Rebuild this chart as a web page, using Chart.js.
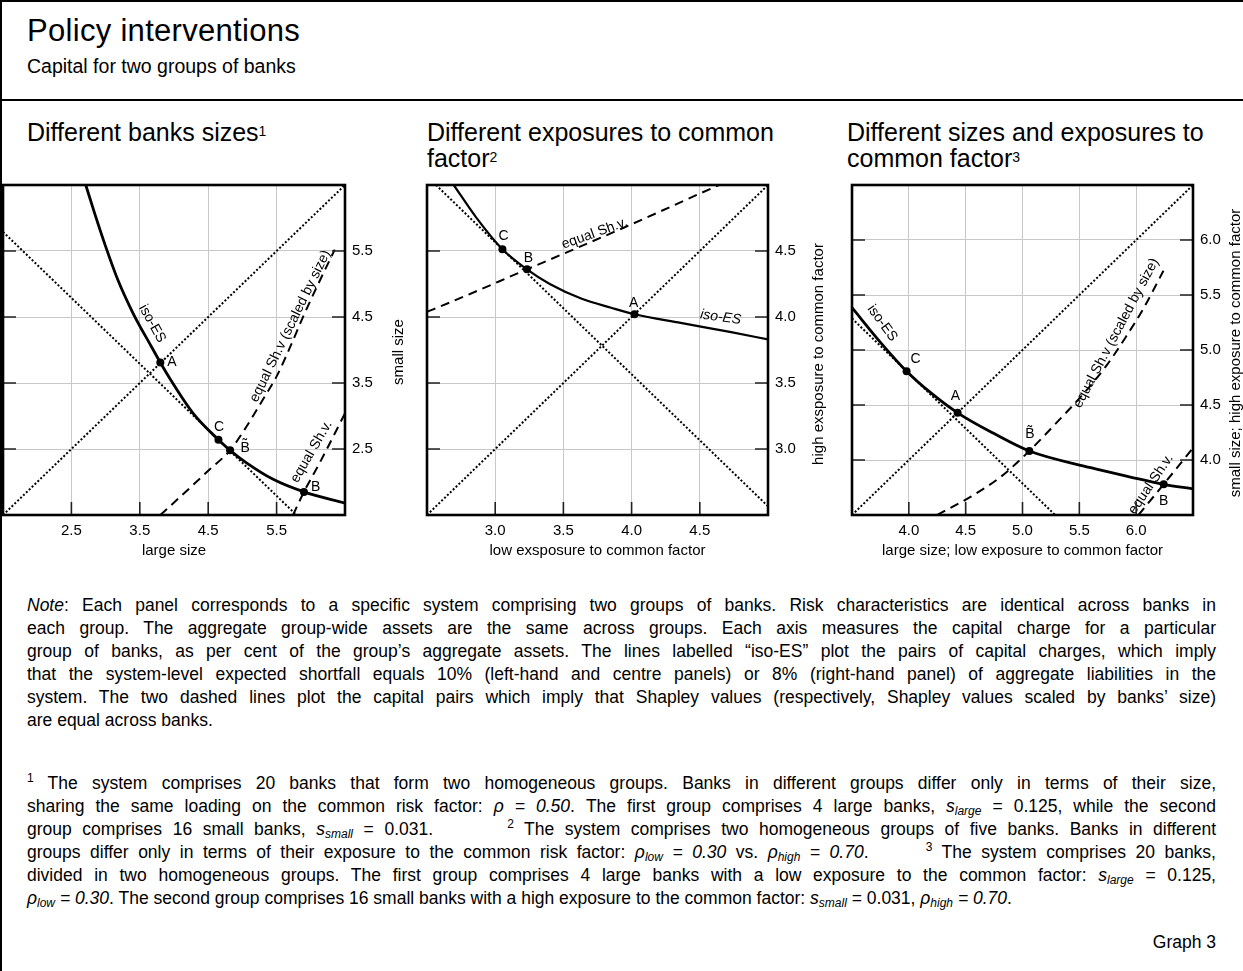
<!DOCTYPE html>
<html lang="en">
<head>
  <meta charset="UTF-8" />
  <title>Policy interventions</title>
  <script src="https://cdn.jsdelivr.net/npm/chart.js"></script>
  <style>
    body { margin: 0; width: 1243px; height: 971px; position: relative; overflow: hidden; background: #fff; color: #000; font-family: Arial, "Liberation Sans", sans-serif; }
    .line-h { position: absolute; left: 0; width: 1243px; height: 2px; background: #000; }
    .line-v { position: absolute; left: 0; top: 0; width: 2px; height: 971px; background: #000; }
    h1 { position: absolute; left: 27px; top: 13px; margin: 0; font-size: 31px; font-weight: normal; line-height: 35px; letter-spacing: 0.3px; }
    .sub { position: absolute; left: 27px; top: 55px; font-size: 19.5px; line-height: 22px; }
    .ptitle { position: absolute; top: 119px; font-size: 25px; line-height: 26px; }
    .ptitle sup { font-size: 14px; vertical-align: top; position: relative; top: -1px; }
    canvas { position: absolute; }
    .para { position: absolute; left: 27px; width: 1189px; font-size: 17.5px; line-height: 23px; }
    .para div { text-align: justify; text-align-last: justify; white-space: nowrap; }
    .para div.last { text-align-last: left; }
    .para sub { font-size: 12px; vertical-align: -3px; line-height: 0; }
    .para sup { font-size: 12px; vertical-align: 7px; line-height: 0; }
    .graph { position: absolute; right: 27px; top: 931px; font-size: 17.5px; line-height: 23px; }
  </style>
</head>
<body>
  <div class="line-h" style="top:0"></div>
  <div class="line-v"></div>
  <h1>Policy interventions</h1>
  <div class="sub">Capital for two groups of banks</div>
  <div class="line-h" style="top:99px"></div>

  <div class="ptitle" style="left:27px">Different banks sizes<sup>1</sup></div>
  <div class="ptitle" style="left:427px">Different exposures to common<br>factor<sup>2</sup></div>
  <div class="ptitle" style="left:847px">Different sizes and exposures to<br>common factor<sup>3</sup></div>

  <canvas id="panel1" width="417" height="385" style="left:-2px; top:180px"></canvas>
  <canvas id="panel2" width="416" height="385" style="left:422px; top:180px"></canvas>
  <canvas id="panel3" width="396" height="385" style="left:847px; top:180px"></canvas>

  <div class="para" style="top:594px">
    <div><i>Note</i>: Each panel corresponds to a specific system comprising two groups of banks. Risk characteristics are identical across banks in</div>
    <div>each group. The aggregate group-wide assets are the same across groups. Each axis measures the capital charge for a particular</div>
    <div>group of banks, as per cent of the group’s aggregate assets. The lines labelled “iso-ES” plot the pairs of capital charges, which imply</div>
    <div>that the system-level expected shortfall equals 10% (left-hand and centre panels) or 8% (right-hand panel) of aggregate liabilities in the</div>
    <div>system. The two dashed lines plot the capital pairs which imply that Shapley values (respectively, Shapley values scaled by banks’ size)</div>
    <div class="last">are equal across banks.</div>
  </div>

  <div class="para" style="top:772px">
    <div><sup>1</sup> The system comprises 20 banks that form two homogeneous groups. Banks in different groups differ only in terms of their size,</div>
    <div>sharing the same loading on the common risk factor: <i>ρ = 0.50</i>. The first group comprises 4 large banks, <i>s<sub>large</sub></i> = 0.125, while the second</div>
    <div>group comprises 16 small banks, <i>s<sub>small</sub></i> = 0.031. &nbsp;&nbsp;&nbsp;&nbsp;&nbsp; <sup>2</sup> The system comprises two homogeneous groups of five banks. Banks in different</div>
    <div>groups differ only in terms of their exposure to the common risk factor: <i>ρ<sub>low</sub> = 0.30</i> vs. <i>ρ<sub>high</sub> = 0.70</i>. &nbsp;&nbsp;&nbsp;&nbsp; <sup>3</sup> The system comprises 20 banks,</div>
    <div>divided in two homogeneous groups. The first group comprises 4 large banks with a low exposure to the common factor: <i>s<sub>large</sub></i> = 0.125,</div>
    <div class="last"><i>ρ<sub>low</sub> = 0.30</i>. The second group comprises 16 small banks with a high exposure to the common factor: <i>s<sub>small</sub></i> = 0.031, <i>ρ<sub>high</sub> = 0.70</i>.</div>
  </div>

  <div class="graph">Graph 3</div>

  <script>
    const FONT = 'Arial, "Liberation Sans", sans-serif';

    // ---- panel 1: different bank sizes (x: large size, y: small size)
    const p1Range = [1.5, 6.5];
    const p1Ticks = [2.5, 3.5, 4.5, 5.5];
    const p1IsoES = [[2.71, 6.5], [2.84, 6.07], [3.0, 5.57], [3.18, 5.06], [3.4, 4.56], [3.67, 4.05], [3.8, 3.81],
                     [3.95, 3.55], [4.28, 3.04], [4.65, 2.64], [4.82, 2.48], [5.06, 2.29], [5.45, 2.04], [5.9, 1.85], [6.5, 1.68]];
    const p1Diagonal = [[1.5, 1.5], [6.5, 6.5]];
    const p1Tangent = [[1.5, 5.79], [5.79, 1.5]];
    const p1ShapleyScaled = [[3.8, 1.5], [4.18, 1.86], [4.52, 2.19], [4.82, 2.48], [5.06, 2.84], [5.3, 3.25],
                             [5.5, 3.6], [5.7, 4.05], [5.89, 4.51], [6.09, 4.96], [6.35, 5.52]];
    const p1Shapley = [[5.74, 1.5], [5.9, 1.85], [6.13, 2.29], [6.5, 3.04]];
    const p1Points = [[3.8, 3.81], [4.65, 2.64], [4.82, 2.48], [5.9, 1.85]];
    const p1Labels = [
      { text: 'iso-ES', x: 3.68, y: 4.4, rot: 61 },
      { text: 'A', x: 3.97, y: 3.81 },
      { text: 'C', x: 4.66, y: 2.83 },
      { text: 'B\u0303', x: 5.04, y: 2.52 },
      { text: 'B', x: 6.07, y: 1.92 },
      { text: 'equal Sh.v (scaled by size)', x: 5.7, y: 4.36, rot: -64 },
      { text: 'equal Sh.v.', x: 6.01, y: 2.46, rot: -60 }
    ];

    // ---- panel 2: different exposures (x: low exposure, y: high exposure)
    const p2Range = [2.5, 5.0];
    const p2Ticks = [3.0, 3.5, 4.0, 4.5];
    const p2IsoES = [[2.696, 5.0], [2.86, 4.755], [3.053, 4.513], [3.233, 4.361], [3.4, 4.25], [3.63, 4.14],
                     [3.85, 4.07], [4.021, 4.021], [4.36, 3.955], [4.73, 3.885], [5.0, 3.83]];
    const p2Diagonal = [[2.5, 2.5], [5.0, 5.0]];
    const p2Tangent = [[2.566, 5.0], [5.0, 2.566]];
    const p2Shapley = [[2.5, 4.04], [2.55, 4.06], [3.233, 4.361], [3.95, 4.68], [4.64, 5.0]];
    const p2Points = [[3.053, 4.513], [3.233, 4.361], [4.021, 4.021]];
    const p2Labels = [
      { text: 'C', x: 3.061, y: 4.61 },
      { text: 'B', x: 3.243, y: 4.446 },
      { text: 'A', x: 4.016, y: 4.106 },
      { text: 'iso-ES', x: 4.653, y: 3.998, rot: 8, italic: true },
      { text: 'equal Sh.v.', x: 3.729, y: 4.633, rot: -20 }
    ];

    // ---- panel 3: sizes and exposures (x: large / low exposure, y: small / high exposure)
    const p3Range = [3.5, 6.5];
    const p3Ticks = [4.0, 4.5, 5.0, 5.5, 6.0];
    const p3IsoES = [[3.5, 5.385], [3.75, 5.07], [3.98, 4.807], [4.2, 4.605], [4.429, 4.429], [4.75, 4.24],
                     [5.06, 4.082], [5.6, 3.93], [5.95, 3.845], [6.242, 3.779], [6.5, 3.737]];
    const p3Diagonal = [[3.5, 3.5], [6.5, 6.5]];
    const p3Tangent = [[3.5, 5.287], [5.287, 3.5]];
    const p3ShapleyScaled = [[4.25, 3.5], [4.55, 3.67], [4.8, 3.84], [5.06, 4.082], [5.3, 4.34], [5.5, 4.56],
                             [5.74, 4.86], [5.91, 5.12], [6.06, 5.37], [6.24, 5.72]];
    const p3Shapley = [[6.02, 3.5], [6.242, 3.779], [6.5, 4.11]];
    const p3Points = [[3.98, 4.807], [4.429, 4.429], [5.06, 4.082], [6.242, 3.779]];
    const p3Labels = [
      { text: 'iso-ES', x: 3.766, y: 5.245, rot: 54 },
      { text: 'C', x: 4.06, y: 4.915 },
      { text: 'A', x: 4.409, y: 4.585 },
      { text: 'B\u0303', x: 5.066, y: 4.235 },
      { text: 'B', x: 6.242, y: 3.628 },
      { text: 'equal Sh.v (scaled by size)', x: 5.825, y: 5.154, rot: -62 },
      { text: 'equal Sh.v.', x: 6.13, y: 3.78, rot: -56 }
    ];

    const toXY = pts => pts.map(p => ({ x: p[0], y: p[1] }));

    // frame, inward tick marks and the rotated right-hand axis title
    const framePlugin = {
      id: 'frame',
      afterDraw(chart, args, opts) {
        const { ctx, chartArea: a, scales } = chart;
        ctx.save();
        ctx.strokeStyle = '#222';
        ctx.lineWidth = 1.6;
        ctx.beginPath();
        scales.x.ticks.forEach(t => {
          const px = scales.x.getPixelForValue(t.value);
          ctx.moveTo(px, a.bottom); ctx.lineTo(px, a.bottom - 13);
        });
        scales.y.ticks.forEach(t => {
          const py = scales.y.getPixelForValue(t.value);
          ctx.moveTo(a.left, py); ctx.lineTo(a.left + 13, py);
          ctx.moveTo(a.right, py); ctx.lineTo(a.right - 13, py);
        });
        ctx.stroke();
        ctx.strokeStyle = '#000';
        ctx.lineWidth = 2.6;
        ctx.strokeRect(a.left, a.top, a.right - a.left, a.bottom - a.top);
        ctx.fillStyle = '#000';
        ctx.font = '15px ' + FONT;
        ctx.textAlign = 'center';
        ctx.textBaseline = 'middle';
        ctx.translate(a.right + opts.dx, (a.top + a.bottom) / 2 + opts.dy);
        ctx.rotate(-Math.PI / 2);
        ctx.fillText(opts.text, 0, 0);
        ctx.restore();
      }
    };

    // in-plot labels placed in data coordinates
    const labelPlugin = {
      id: 'curveLabels',
      afterDatasetsDraw(chart, args, opts) {
        const { ctx, chartArea: a, scales } = chart;
        ctx.save();
        ctx.beginPath();
        ctx.rect(a.left, a.top, a.right - a.left, a.bottom - a.top);
        ctx.clip();
        ctx.fillStyle = '#000';
        ctx.textAlign = 'center';
        ctx.textBaseline = 'middle';
        opts.items.forEach(l => {
          ctx.save();
          ctx.font = (l.italic ? 'italic ' : '') + '14px ' + FONT;
          ctx.translate(scales.x.getPixelForValue(l.x), scales.y.getPixelForValue(l.y));
          ctx.rotate((l.rot || 0) * Math.PI / 180);
          ctx.fillText(l.text, 0, 0);
          ctx.restore();
        });
        ctx.restore();
      }
    };

    function axis(range, ticks, extra) {
      return Object.assign({
        type: 'linear',
        min: range[0],
        max: range[1],
        afterBuildTicks: s => { s.ticks = ticks.map(v => ({ value: v })); },
        ticks: { callback: v => Number(v).toFixed(1), color: '#000', font: { family: FONT, size: 15 }, padding: 7, autoSkip: false, maxRotation: 0 },
        grid: { color: '#c8c8c8', lineWidth: 1, drawTicks: false },
        border: { display: false }
      }, extra);
    }

    function makePanel(id, p) {
      const solid = { borderColor: '#000', borderWidth: p.solidWidth };
      const dotted = { borderColor: '#000', borderWidth: 2, borderDash: [2, 2] };
      const dashed = { borderColor: '#000', borderWidth: 2, borderDash: [9, 6] };
      const line = (pts, style) => Object.assign({
        data: toXY(pts), showLine: true, pointRadius: 0, fill: false, clip: 0,
        cubicInterpolationMode: 'monotone'
      }, style);

      const datasets = [
        { data: toXY(p.points), pointRadius: 4, pointBackgroundColor: '#000', pointBorderWidth: 0, showLine: false }
      ];
      p.dashedLines.forEach(d => datasets.push(line(d, dashed)));
      datasets.push(line(p.diagonal, dotted));
      datasets.push(line(p.tangent, dotted));
      datasets.push(line(p.iso, solid));

      new Chart(document.getElementById(id), {
        type: 'scatter',
        data: { datasets },
        options: {
          responsive: false,
          animation: false,
          layout: { padding: { left: 5, top: 5, right: 0, bottom: 0 } },
          scales: {
            x: axis(p.range, p.ticks, {
              title: { display: true, text: p.xTitle, color: '#000', font: { family: FONT, size: 15 }, padding: { top: 2, bottom: 5 } },
              afterFit: s => { s.height = 50; s.paddingLeft = 0; s.paddingRight = 0; }
            }),
            y: axis(p.range, p.ticks, {
              position: 'right',
              afterFit: s => { s.width = p.yWidth; s.paddingTop = 0; s.paddingBottom = 0; }
            })
          },
          plugins: {
            legend: { display: false },
            tooltip: { enabled: false },
            frame: { text: p.yTitle, dx: p.yTitleDx, dy: p.yTitleDy },
            curveLabels: { items: p.labels }
          }
        },
        plugins: [labelPlugin, framePlugin]
      });
    }

    makePanel('panel1', {
      range: p1Range, ticks: p1Ticks, iso: p1IsoES, diagonal: p1Diagonal, tangent: p1Tangent,
      dashedLines: [p1ShapleyScaled, p1Shapley], points: p1Points, labels: p1Labels,
      xTitle: 'large size', yTitle: 'small size', yWidth: 70, yTitleDx: 54, yTitleDy: 2, solidWidth: 2.8
    });
    makePanel('panel2', {
      range: p2Range, ticks: p2Ticks, iso: p2IsoES, diagonal: p2Diagonal, tangent: p2Tangent,
      dashedLines: [p2Shapley], points: p2Points, labels: p2Labels,
      xTitle: 'low exsposure to common factor', yTitle: 'high exsposure to common factor',
      yWidth: 70, yTitleDx: 51, yTitleDy: 4, solidWidth: 2.2
    });
    makePanel('panel3', {
      range: p3Range, ticks: p3Ticks, iso: p3IsoES, diagonal: p3Diagonal, tangent: p3Tangent,
      dashedLines: [p3ShapleyScaled, p3Shapley], points: p3Points, labels: p3Labels,
      xTitle: 'large size; low exposure to common factor', yTitle: 'small size; high exposure to common factor',
      yWidth: 50, yTitleDx: 43, yTitleDy: 3, solidWidth: 2.8
    });

    // squeeze any justified text line that is naturally wider than the column
    document.querySelectorAll('.para div').forEach(div => {
      const over = div.scrollWidth - div.clientWidth;
      if (over > 0) {
        div.style.letterSpacing = (-over / div.textContent.length).toFixed(3) + 'px';
      }
    });
  </script>
</body>
</html>
